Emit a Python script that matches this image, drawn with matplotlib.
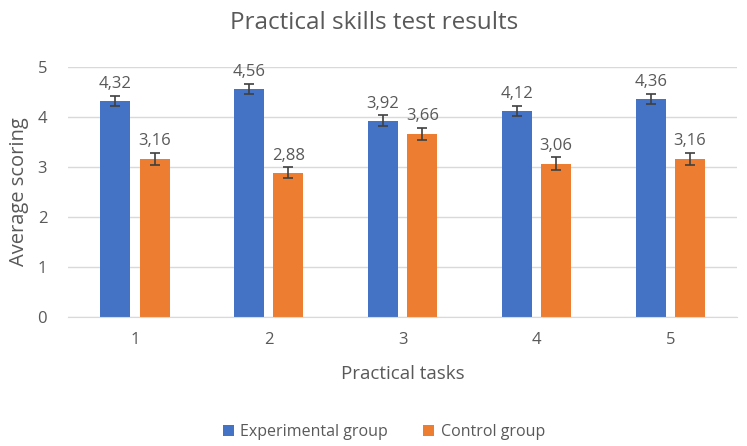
import numpy as np
import matplotlib.pyplot as plt

plt.rcParams['font.family'] = ['Open Sans', 'DejaVu Sans']

# Data
tasks = ["1", "2", "3", "4", "5"]
experimental = [4.32, 4.56, 3.92, 4.12, 4.36]
control = [3.16, 2.88, 3.66, 3.06, 3.16]
experimental_err = [0.10, 0.10, 0.11, 0.10, 0.10]
control_err = [0.12, 0.11, 0.12, 0.13, 0.12]

blue = "#4472C4"
orange = "#ED7D31"
grey = "#595959"

fig = plt.figure(figsize=(7.47, 4.46), dpi=100)
ax = fig.add_axes([0.091, 0.289, 0.896, 0.561])

x = np.arange(len(tasks))
w = 0.224
off = 0.147
err_kw = dict(ecolor="#404040", elinewidth=1.2, capsize=3.5, capthick=1.2)

b1 = ax.bar(x - off, experimental, w, yerr=experimental_err, color=blue,
            error_kw=err_kw, label="Experimental group", zorder=2)
b2 = ax.bar(x + off, control, w, yerr=control_err, color=orange,
            error_kw=err_kw, label="Control group", zorder=2)

for xi, v, e in zip(x - off, experimental, experimental_err):
    ax.text(xi, v + e + 0.07, f"{v:.2f}".replace(".", ","), ha="center",
            va="bottom", fontsize=12, color=grey)
for xi, v, e in zip(x + off, control, control_err):
    ax.text(xi, v + e + 0.07, f"{v:.2f}".replace(".", ","), ha="center",
            va="bottom", fontsize=12, color=grey)

ax.set_xlim(-0.5, 4.5)
ax.set_ylim(0, 5)
ax.set_yticks(range(6))
ax.set_xticks(x)
ax.set_xticklabels(tasks)
ax.yaxis.grid(True, color="#D9D9D9", linewidth=1, zorder=0)
ax.set_axisbelow(True)
for s in ["top", "right", "left"]:
    ax.spines[s].set_visible(False)
ax.spines["bottom"].set_color("#D9D9D9")
ax.tick_params(axis="both", length=0, colors=grey, labelsize=12)
ax.tick_params(axis="x", pad=11)
ax.tick_params(axis="y", pad=15)

ax.set_ylabel("Average scoring", fontsize=14.5, color=grey, labelpad=6)
ax.set_xlabel("Practical tasks", fontsize=13.5, color=grey, labelpad=12)
fig.text(0.501, 0.948, "Practical skills test results", ha="center",
         va="center", fontsize=17.5, color=grey)

fig.legend(handles=[b1, b2], loc="center", bbox_to_anchor=(0.514, 0.031),
           ncol=2, frameon=False, fontsize=11.5, labelcolor=grey,
           handlelength=0.7, handleheight=0.7, columnspacing=2.2,
           handletextpad=0.4)

fig.savefig("out.png", dpi=100)
